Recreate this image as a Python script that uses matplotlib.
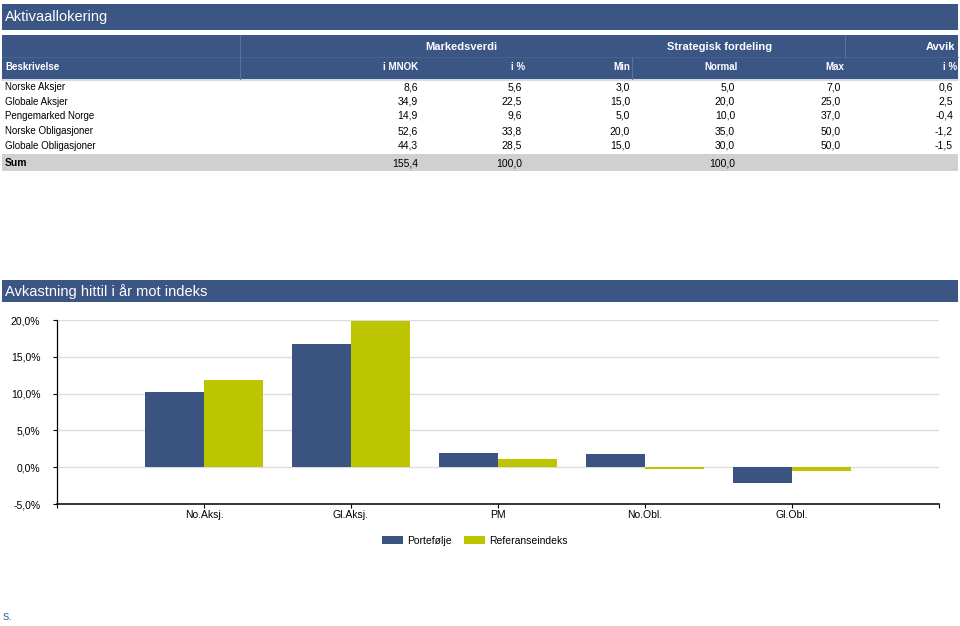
import numpy as np
import matplotlib
matplotlib.use('Agg')
import matplotlib.pyplot as plt
from matplotlib.patches import Rectangle
from matplotlib.lines import Line2D

# DATA

rows = ['Norske Aksjer', 'Globale Aksjer', 'Pengemarked Norge', 'Norske Obligasjoner', 'Globale Obligasjoner']
mnok = ['8,6', '34,9', '14,9', '52,6', '44,3']
pct = ['5,6', '22,5', '9,6', '33,8', '28,5']
strat_min = ['3,0', '15,0', '5,0', '20,0', '15,0']
strat_normal = ['5,0', '20,0', '10,0', '35,0', '30,0']
strat_max = ['7,0', '25,0', '37,0', '50,0', '50,0']
avvik = ['0,6', '2,5', '-0,4', '-1,2', '-1,5']
sum_row = ['Sum', '155,4', '100,0', '', '100,0', '', '']

categories = ['No.Aksj.', 'Gl.Aksj.', 'PM', 'No.Obl.', 'Gl.Obl.']
portefolje = [10.2, 16.8, 1.9, 1.8, -2.1]
referanse = [11.9, 19.9, 1.1, -0.2, -0.55]
yticks = [-5, 0, 5, 10, 15, 20]

# STYLE

plt.rcParams['font.family'] = ['Liberation Sans', 'DejaVu Sans']
W, H = 960, 626
navy = '#3b5584'
lime = '#bdc500'
bar_blue = '#3a5380'

fig = plt.figure(figsize=(W / 100, H / 100), dpi=100)

def fx(x):
    return x / W

def fy(y):
    return 1 - y / H

def band(x0, y0, x1, y1, color):
    fig.add_artist(Rectangle((fx(x0), fy(y1)), fx(x1 - x0), (y1 - y0) / H,
                             facecolor=color, edgecolor='none', transform=fig.transFigure))

def hline(x0, x1, y, color, lw=0.8):
    fig.add_artist(Line2D([fx(x0), fx(x1)], [fy(y), fy(y)], color=color, lw=lw, transform=fig.transFigure))

def vline(x, y0, y1, color, lw=0.8):
    fig.add_artist(Line2D([fx(x), fx(x)], [fy(y0), fy(y1)], color=color, lw=lw, transform=fig.transFigure))

def txt(x, y, s, ha='left', size=7.5, color='black', weight='normal'):
    fig.text(fx(x), fy(y), s, ha=ha, va='center', fontsize=size, color=color, fontweight=weight)

# TABLE

band(2, 4, 958, 30, navy)
txt(5, 17, 'Aktivaallokering', size=10.5, color='white')

band(2, 35, 958, 79, navy)
hline(2, 958, 79.5, '#c8d4e8', lw=1.2)
hline(2, 958, 57, '#4a6492', lw=0.6)
vline(240, 35, 79, '#5a72a0', lw=0.8)
vline(845, 35, 57, '#5a72a0', lw=0.8)
vline(632, 57, 79, '#5a72a0', lw=0.8)

txt(461, 47, 'Markedsverdi', ha='center', size=8, color='white', weight='bold')
txt(720, 47, 'Strategisk fordeling', ha='center', size=8, color='white', weight='bold')
txt(955, 47, 'Avvik', ha='right', size=8, color='white', weight='bold')

header_y = 66.5
txt(5, header_y, 'Beskrivelse', color='white', weight='bold', size=7)
col_x = [418, 525, 630, 736, 844, 957]
headers = ['i MNOK', 'i %', 'Min', 'Normal', 'Max', 'i %']
for x, h in zip(col_x, headers):
    if h == 'Normal':
        txt(721, header_y, h, ha='center', color='white', weight='bold', size=7)
    else:
        txt(x, header_y, h, ha='right', color='white', weight='bold', size=7)

val_x = [418, 522, 630, 735, 841, 953]
row_y = [87, 102, 116, 131, 146]
for i, name in enumerate(rows):
    y = row_y[i]
    txt(5, y, name, size=7)
    cols = [mnok[i], pct[i], strat_min[i], strat_normal[i], strat_max[i], avvik[i]]
    for x, v in zip(val_x, cols):
        txt(x, y, v, ha='right')

band(2, 154, 958, 171, '#d0d0d0')
txt(5, 163, sum_row[0], weight='bold')
for x, v in zip(val_x, sum_row[1:]):
    if v:
        txt(x, 163, v, ha='right')

# CHART

band(2, 280, 958, 302, navy)
txt(5, 292, 'Avkastning hittil i år mot indeks', size=10.5, color='white')

ax = fig.add_axes([fx(57), fy(504), fx(939 - 57), (504 - 320) / H])
pos = np.arange(1, len(categories) + 1)
w = 0.4
ax.bar(pos - w / 2, portefolje, w, color=bar_blue, label='Portefølje', zorder=3)
ax.bar(pos + w / 2, referanse, w, color=lime, label='Referanseindeks', zorder=3)

ax.set_xlim(0, 6)
ax.set_ylim(-5, 20)
ax.set_yticks(yticks)
ax.yaxis.set_major_formatter(plt.FuncFormatter(lambda v, p: ('%.1f%%' % v).replace('.', ',')))
ax.set_xticks(np.arange(0, 7))
ax.set_xticklabels([''] + categories + [''])
ax.tick_params(axis='both', labelsize=7.5, length=3, width=0.8, color='black')
ax.tick_params(axis='y', pad=9)
ax.tick_params(axis='x', pad=1.5)
for v in yticks[1:]:
    ax.axhline(v, color='#dddddd', lw=1, zorder=1)
for s in ['top', 'right']:
    ax.spines[s].set_visible(False)
ax.spines['left'].set_linewidth(0.9)
ax.spines['bottom'].set_linewidth(1.1)

fig.legend(loc='center', bbox_to_anchor=(fx(475), fy(541)), ncol=2, frameon=False,
           fontsize=7.5, handlelength=2.0, handleheight=0.8, columnspacing=1.2, handletextpad=0.4)

txt(3, 617, 's.', size=9, color='#4a6fa8')

fig.savefig('out.png', dpi=100)
